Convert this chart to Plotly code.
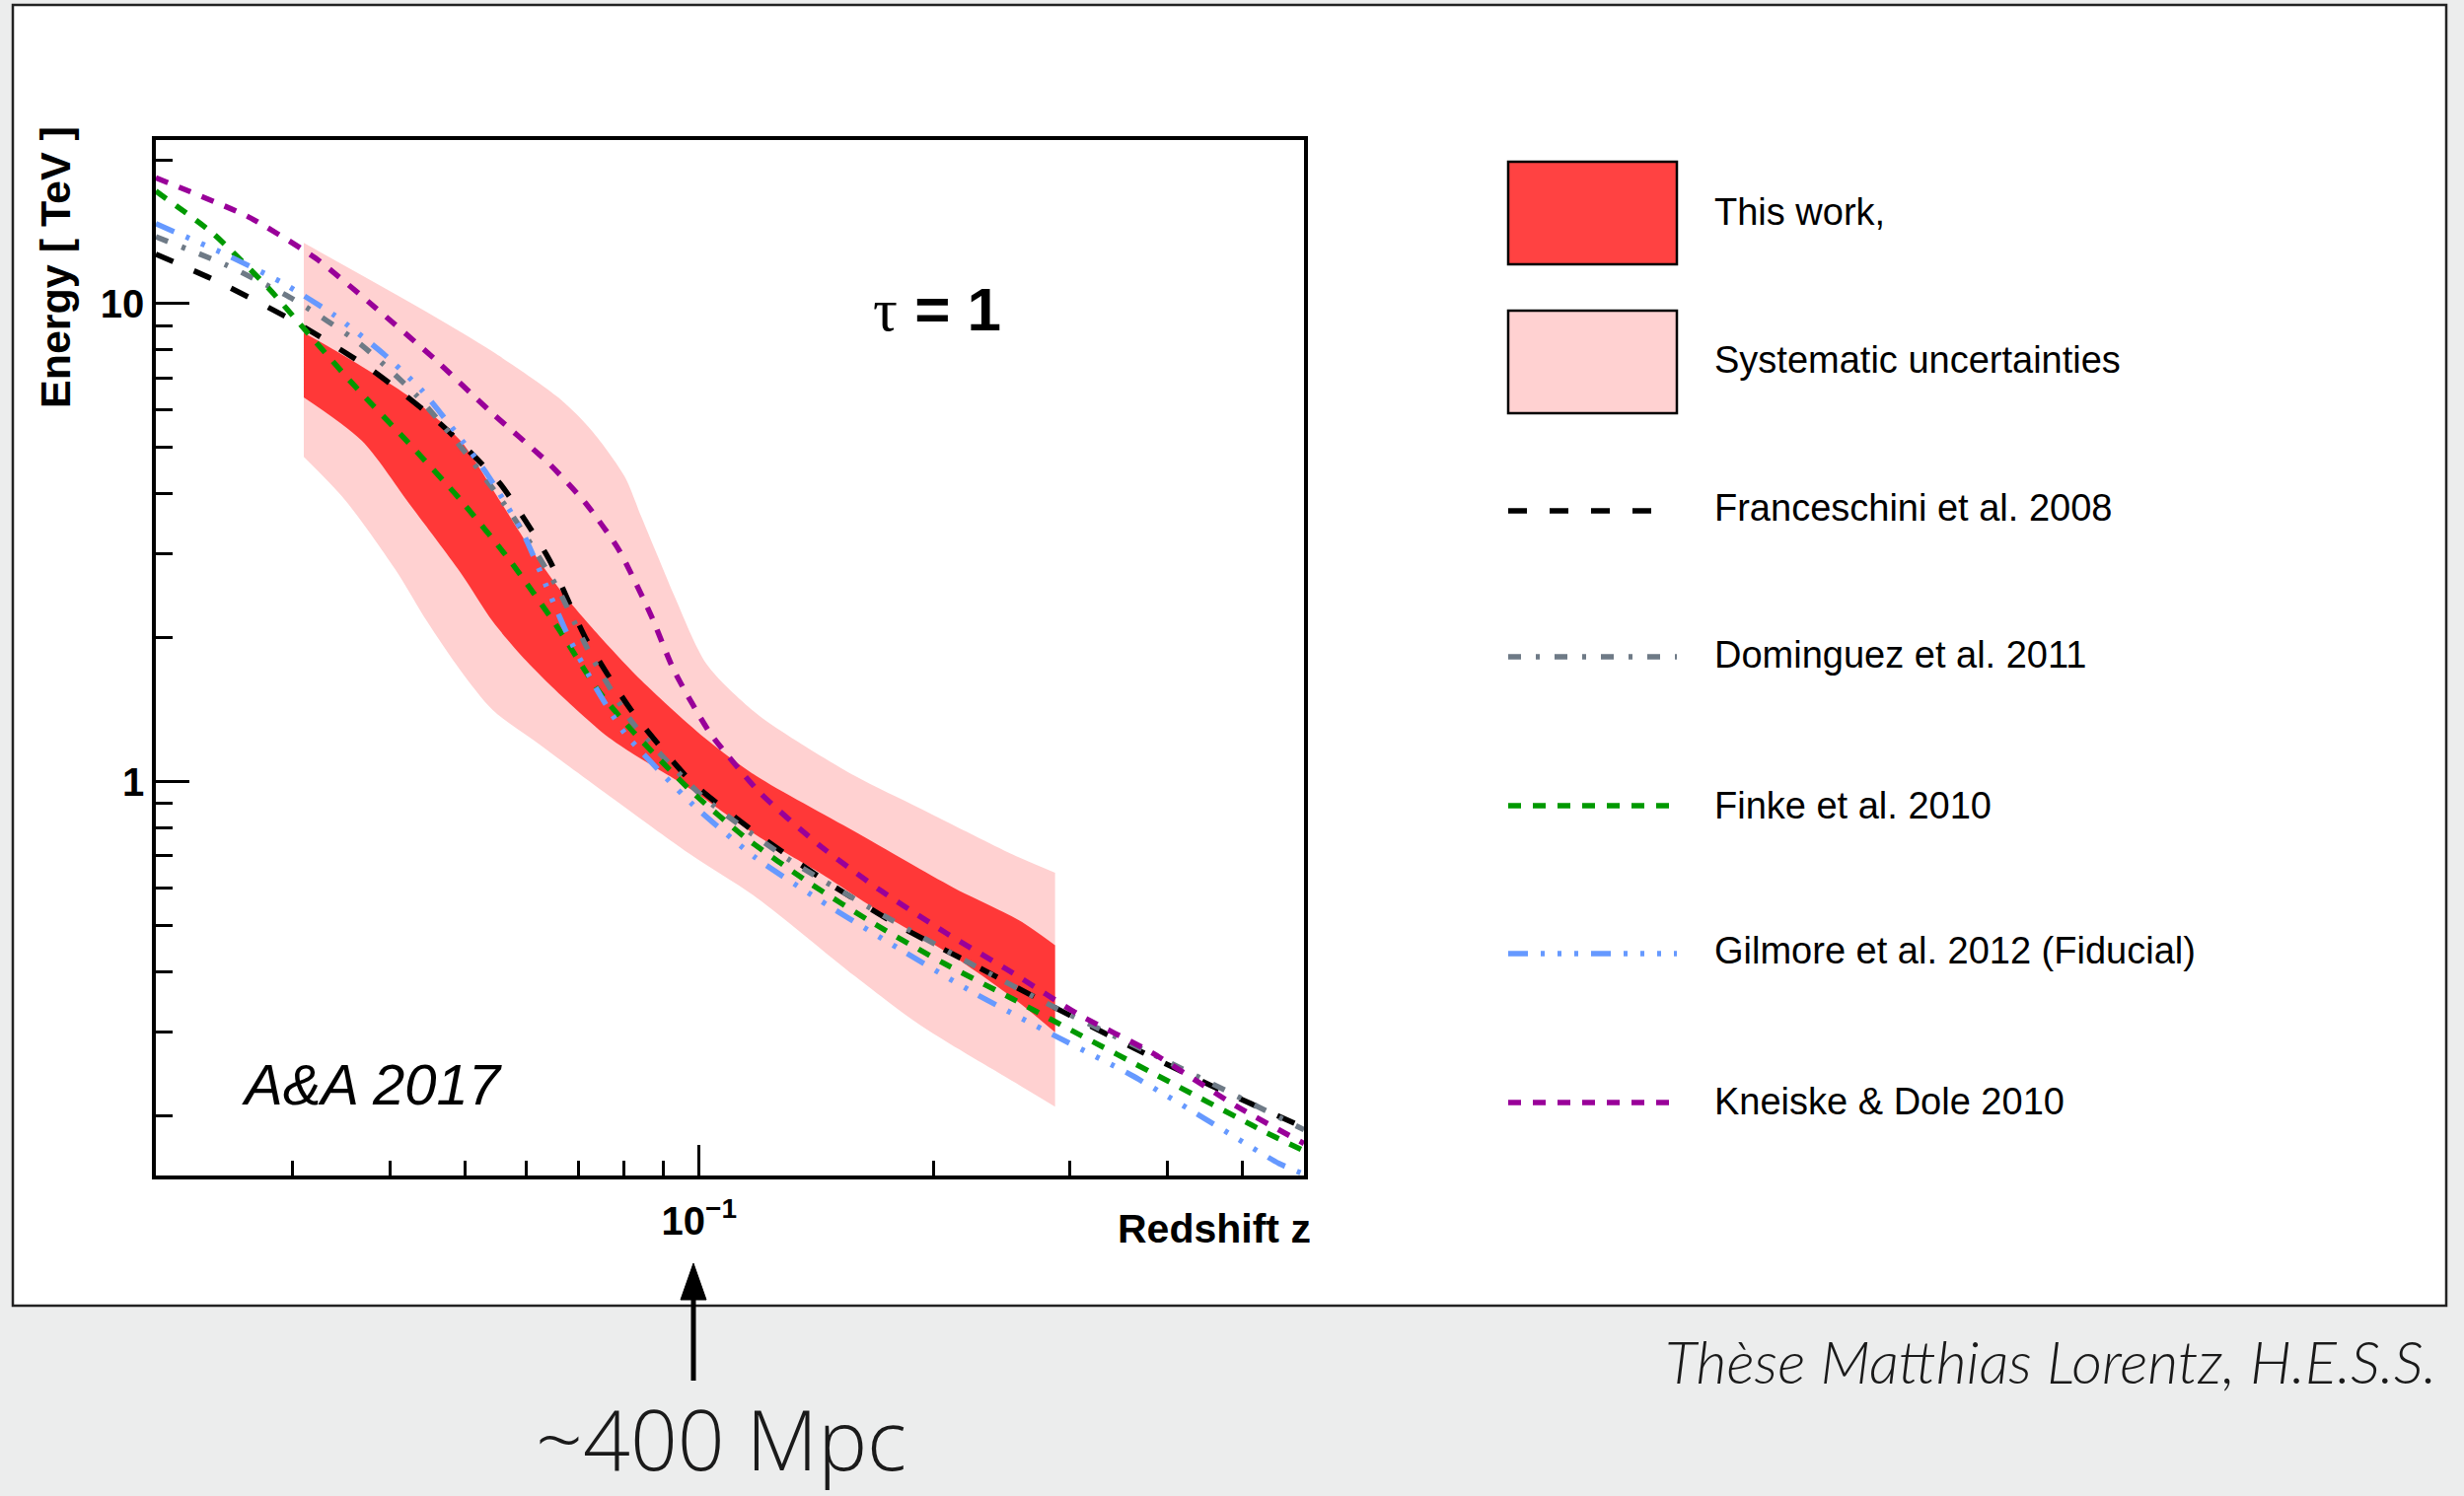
import math
import plotly.graph_objects as go

W, H = 2498, 1517


def px(x):
    return x / W


def py(y):
    return 1 - y / H


# ---------------- data (redshift z, energy TeV) ----------------
syst_up_z = [0.031, 0.0447, 0.0543, 0.0660, 0.0728, 0.0802, 0.0842, 0.0884, 0.0928,
             0.1023, 0.1184, 0.1305, 0.1586, 0.1927, 0.2532, 0.287]
syst_up_E = [13.4, 9.59, 7.93, 6.35, 5.42, 4.35, 3.59, 2.97, 2.46,
             1.76, 1.39, 1.245, 1.028, 0.878, 0.704, 0.645]
syst_lo_z = [0.031, 0.0350, 0.0406, 0.0447, 0.0493, 0.0543, 0.0611, 0.0975, 0.1184,
             0.1586, 0.1927, 0.258, 0.287]
syst_lo_E = [4.78, 3.89, 2.79, 2.16, 1.71, 1.41, 1.224, 0.704, 0.573,
             0.392, 0.309, 0.232, 0.209]

stat_up_z = [0.031, 0.0334, 0.0426, 0.0493, 0.0543, 0.0599, 0.0660, 0.0728, 0.0842,
             0.1023, 0.1184, 0.1586, 0.2125, 0.258, 0.287]
stat_up_E = [8.69, 8.12, 6.35, 5.17, 4.08, 3.17, 2.54, 2.10, 1.63,
             1.224, 1.028, 0.786, 0.600, 0.513, 0.455]
stat_lo_z = [0.031, 0.0368, 0.0426, 0.0493, 0.0543, 0.0599, 0.0660, 0.0772, 0.0975,
             0.1184, 0.1439, 0.1748, 0.2125, 0.258, 0.287]
stat_lo_E = [6.37, 5.17, 3.77, 2.74, 2.16, 1.79, 1.53, 1.224, 0.965,
             0.773, 0.640, 0.521, 0.431, 0.345, 0.299]

franceschini_z = [0.02, 0.0242, 0.0303, 0.0379, 0.0465, 0.0554, 0.0641, 0.0714, 0.0818,
                  0.0975, 0.1184, 0.1453, 0.1817, 0.2274, 0.2818, 0.3594, 0.454, 0.6]
franceschini_E = [12.7, 11.06, 9.14, 7.27, 5.60, 4.21, 2.92, 2.00, 1.41,
                  1.004, 0.780, 0.620, 0.497, 0.411, 0.342, 0.279, 0.232, 0.189]

dominguez_z = [0.02, 0.0246, 0.0301, 0.0366, 0.0434, 0.0502, 0.0576, 0.0654, 0.0728,
               0.0822, 0.1013, 0.1305, 0.1698, 0.2230, 0.290, 0.385, 0.6]
dominguez_E = [13.8, 12.06, 10.2, 8.25, 6.40, 4.85, 3.59, 2.58, 1.82,
               1.325, 0.928, 0.687, 0.533, 0.417, 0.334, 0.268, 0.187]

finke_z = [0.02, 0.0237, 0.0279, 0.0309, 0.0361, 0.0422, 0.0493, 0.0571, 0.0654, 0.0742,
           0.0818, 0.0975, 0.1150, 0.1384, 0.1681, 0.2064, 0.2532, 0.3106, 0.381, 0.536, 0.6]
finke_E = [17.2, 14.02, 10.79, 8.93, 6.71, 5.13, 3.89, 2.90, 2.13, 1.55,
           1.284, 0.958, 0.761, 0.615, 0.504, 0.417, 0.351, 0.294, 0.247, 0.1846, 0.169]

gilmore_z = [0.02, 0.0244, 0.0291, 0.0340, 0.0392, 0.0439, 0.0488, 0.0533, 0.0593, 0.0635,
             0.0680, 0.0735, 0.0802, 0.0984, 0.1184, 0.1467, 0.1817, 0.2274, 0.287, 0.3594,
             0.4455, 0.557, 0.6]
gilmore_E = [14.7, 12.75, 11.06, 9.44, 7.87, 6.61, 5.34, 4.41, 3.32, 2.58,
             2.00, 1.58, 1.264, 0.892, 0.692, 0.550, 0.445, 0.359, 0.294, 0.2435,
             0.198, 0.159, 0.151]

kneiske_z = [0.02, 0.0263, 0.0321, 0.0383, 0.0456, 0.0538, 0.0641, 0.0714, 0.0787, 0.0867,
             0.0928, 0.1033, 0.1196, 0.1425, 0.1714, 0.2084, 0.2532, 0.3075, 0.381, 0.491, 0.6]
kneiske_E = [18.34, 15.2, 12.45, 9.82, 7.68, 5.96, 4.63, 3.83, 3.07, 2.23,
             1.71, 1.264, 0.950, 0.738, 0.591, 0.481, 0.398, 0.326, 0.272, 0.2095, 0.175]

x_major = [0.1]
x_major_text = ["10<sup>−1</sup>"]
x_minor = [0.03, 0.04, 0.05, 0.06, 0.07, 0.08, 0.09, 0.2, 0.3, 0.4, 0.5]
y_major = [1, 10]
y_major_text = ["1", "10"]
y_minor = [0.2, 0.3, 0.4, 0.5, 0.6, 0.7, 0.8, 0.9, 2, 3, 4, 5, 6, 7, 8, 9, 20]

legend_labels = ["This work,", "Systematic uncertainties", "Franceschini et al. 2008",
                 "Dominguez et al. 2011", "Finke et al. 2010",
                 "Gilmore et al. 2012 (Fiducial)", "Kneiske & Dole 2010"]

# ---------------- styles ----------------
RED = "#FF3838"
PINK = "#FFD1D1"
models = [
    ("Franceschini et al. 2008", franceschini_z, franceschini_E, "#000000", "19px,23px"),
    ("Dominguez et al. 2011", dominguez_z, dominguez_E, "#6E7A86", "13px,15px,4px,15px"),
    ("Finke et al. 2010", finke_z, finke_E, "#009900", "13px,12px"),
    ("Gilmore et al. 2012 (Fiducial)", gilmore_z, gilmore_E, "#6699FF",
     "20px,13px,4px,13px,4px,13px,4px,13px"),
    ("Kneiske & Dole 2010", kneiske_z, kneiske_E, "#990099", "13px,12px"),
]

FONT = "Liberation Sans, Arial, Helvetica, sans-serif"

fig = go.Figure()

# systematic band (lower edge then upper edge filled to it)
fig.add_trace(go.Scatter(
    x=syst_lo_z, y=syst_lo_E, mode="lines",
    line=dict(width=0, color=PINK, shape="spline", smoothing=0.8),
    hoverinfo="skip", showlegend=False))
fig.add_trace(go.Scatter(
    x=syst_up_z, y=syst_up_E, mode="lines", fill="tonexty", fillcolor=PINK,
    line=dict(width=0, color=PINK, shape="spline", smoothing=0.8),
    hoverinfo="skip", showlegend=False))
# statistical band
fig.add_trace(go.Scatter(
    x=stat_lo_z, y=stat_lo_E, mode="lines",
    line=dict(width=0, color=RED, shape="spline", smoothing=0.8),
    hoverinfo="skip", showlegend=False))
fig.add_trace(go.Scatter(
    x=stat_up_z, y=stat_up_E, mode="lines", fill="tonexty", fillcolor=RED,
    line=dict(width=0, color=RED, shape="spline", smoothing=0.8),
    hoverinfo="skip", showlegend=False))

for name, z, e, col, dash in models:
    fig.add_trace(go.Scatter(
        x=z, y=e, mode="lines", name=name, showlegend=False,
        line=dict(color=col, width=5.5, dash=dash, shape="spline", smoothing=0.6)))

axis_common = dict(
    type="log", showline=True, linecolor="black", linewidth=3.5, mirror=True,
    ticks="inside", tickcolor="black", tickwidth=3, showgrid=False, zeroline=False,
    tickfont=dict(family=FONT, size=40, color="black", weight="bold"),
)

fig.update_xaxes(
    **axis_common,
    range=[math.log10(0.02), math.log10(0.6)],
    domain=[px(158), px(1322)],
    tickmode="array", tickvals=x_major, ticktext=x_major_text, ticklen=31,
    ticklabelstandoff=8,
    minor=dict(ticks="inside", ticklen=15, tickwidth=3, tickcolor="black",
               tickmode="array", tickvals=x_minor, showgrid=False),
)
fig.update_yaxes(
    **axis_common,
    range=[math.log10(0.15), math.log10(22)],
    domain=[py(1192), py(142)],
    tickmode="array", tickvals=y_major, ticktext=y_major_text, ticklen=34,
    ticklabelstandoff=0,
    minor=dict(ticks="inside", ticklen=17, tickwidth=3, tickcolor="black",
               tickmode="array", tickvals=y_minor, showgrid=False),
)

shapes = [
    dict(type="rect", xref="paper", yref="paper", x0=px(13), x1=px(2480), y0=py(1324), y1=py(5),
         fillcolor="white", line=dict(color="#222222", width=2.5), layer="below"),
    dict(type="rect", xref="paper", yref="paper", x0=px(1529), x1=px(1700), y0=py(268), y1=py(164),
         fillcolor="#FF4242", line=dict(color="black", width=2.5)),
    dict(type="rect", xref="paper", yref="paper", x0=px(1529), x1=px(1700), y0=py(419), y1=py(315),
         fillcolor=PINK, line=dict(color="black", width=2.5)),
    # arrow pointing at z = 0.1
    dict(type="line", xref="paper", yref="paper", x0=px(703), x1=px(703),
         y0=py(1400), y1=py(1310), line=dict(color="black", width=5)),
    dict(type="path", xref="paper", yref="paper",
         path="M {:.6f},{:.6f} L {:.6f},{:.6f} L {:.6f},{:.6f} Z".format(
             px(703), py(1281), px(690), py(1318), px(716), py(1318)),
         fillcolor="black", line=dict(color="black", width=1)),
]
line_rows = [518, 666, 817, 967, 1118]
line_ends = [1683, 1700, 1700, 1700, 1700]
for (name, z, e, col, dash), yy, xe in zip(models, line_rows, line_ends):
    shapes.append(dict(type="line", xref="paper", yref="paper", x0=px(1529), x1=px(xe),
                       y0=py(yy), y1=py(yy), line=dict(color=col, width=5.5, dash=dash)))

annotations = [
    dict(text="Energy [ TeV ]", x=px(56), y=py(271), xref="paper", yref="paper",
         textangle=-90, showarrow=False, xanchor="center", yanchor="middle",
         font=dict(family=FONT, size=43, color="black", weight="bold")),
    dict(text="Redshift z", x=px(1331), y=py(1246), xref="paper", yref="paper",
         showarrow=False, xanchor="right", yanchor="middle",
         font=dict(family=FONT, size=41, color="black", weight="bold")),
    dict(text='<span style="font-family:Liberation Serif, Times New Roman, serif;font-weight:normal">τ</span> = 1',
         x=px(950), y=py(314), xref="paper", yref="paper", showarrow=False,
         xanchor="center", yanchor="middle",
         font=dict(family=FONT, size=62, color="black", weight="bold")),
    dict(text="<i>A&amp;A 2017</i>", x=px(377), y=py(1099), xref="paper", yref="paper",
         showarrow=False, xanchor="center", yanchor="middle",
         font=dict(family=FONT, size=58, color="black")),
    dict(text="~400 Mpc", x=px(731), y=py(1458), xref="paper", yref="paper",
         showarrow=False, xanchor="center", yanchor="middle",
         font=dict(family="Open Sans, sans-serif", size=84, color="#1a1a1a", weight=300)),
    dict(text="<i>Thèse Matthias Lorentz, H.E.S.S.</i>", x=px(2472), y=py(1380),
         xref="paper", yref="paper", showarrow=False, xanchor="right", yanchor="middle",
         font=dict(family="Lato, sans-serif", size=60, color="#1a1a1a", weight=300)),
]
legend_text_y = [215, 365, 515, 664, 817, 964, 1117]
for lab, yy in zip(legend_labels, legend_text_y):
    annotations.append(dict(text=lab.replace("&", "&amp;"), x=px(1736), y=py(yy),
                            xref="paper", yref="paper", showarrow=False,
                            xanchor="left", yanchor="middle",
                            font=dict(family=FONT, size=38, color="black")))

fig.update_layout(
    width=W, height=H, autosize=False,
    margin=dict(l=0, r=0, t=0, b=0),
    paper_bgcolor="#ECEDED", plot_bgcolor="white",
    showlegend=False, shapes=shapes, annotations=annotations,
)

fig.write_html("out.html", config={"displayModeBar": False},
               post_script="document.body.style.margin='0';document.body.style.overflow='hidden';")
